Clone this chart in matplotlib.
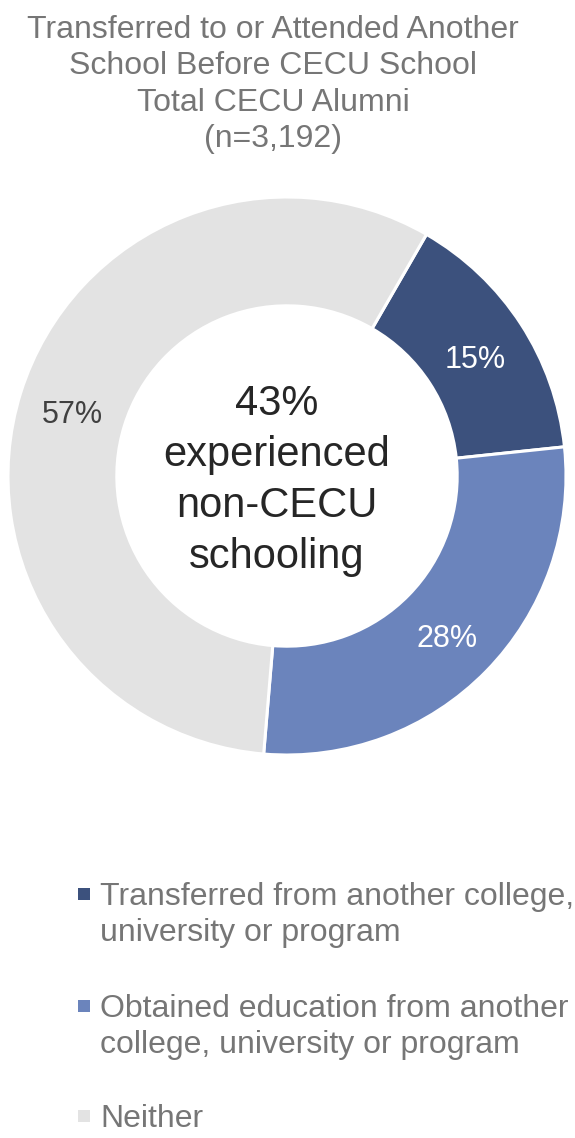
import numpy as np
import matplotlib.pyplot as plt
from matplotlib.patches import Rectangle

plt.rcParams['font.family'] = ['Liberation Sans', 'DejaVu Sans']

# data
categories = ['Transferred from another college,\nuniversity or program',
              'Obtained education from another\ncollege, university or program',
              'Neither']
shares = [15, 28, 57]
colors = ['#3c517d', '#6b84bc', '#e3e3e3']
label_colors = ['white', 'white', '#404040']
title_lines = ['Transferred to or Attended Another', 'School Before CECU School',
               'Total CECU Alumni', '(n=3,192)']
center_lines = ['43%', 'experienced', 'non-CECU', 'schooling']

W, H = 575, 1138
fig = plt.figure(figsize=(W / 100, H / 100), dpi=100)


def put_lines(lines, x, y0, dy, **kw):
    # one text per line, y0 = baseline of first line in px from top
    for i, s in enumerate(lines):
        fig.text(x / W, 1 - (y0 + i * dy) / H, s, va='baseline', **kw)


# donut axes, centred at (287, 476) px, outer radius ~279 px
cx, cy, r_px, half = 287, 476, 279, 285
ax = fig.add_axes([(cx - half) / W, (H - cy - half) / H, 2 * half / W, 2 * half / H])

wedges, texts, autotexts = ax.pie(
    shares, colors=colors, startangle=60, counterclock=False,
    radius=1.0, autopct='%d%%', pctdistance=0.805,
    wedgeprops=dict(width=0.39, edgecolor='white', linewidth=2.2),
    textprops=dict(fontsize=22))
for t, c in zip(autotexts, label_colors):
    t.set_color(c)
    x, y = t.get_position()
    t.set_position((x, y - 6 / r_px))  # nudge down a touch

lim = half / r_px
ax.set_xlim(-lim, lim)
ax.set_ylim(-lim, lim)
ax.set_aspect('equal')
ax.axis('off')

put_lines(center_lines, 277, 415, 51, ha='center', fontsize=30, color='#262626')
put_lines(title_lines, 273, 38, 36.5, ha='center', fontsize=23, color='#767676')

# legend drawn by hand
legend_y = [905, 1017, 1127]
for lab, col, yb in zip(categories, colors, legend_y):
    fig.add_artist(Rectangle((78 / W, 1 - (yb - 5) / H), 12 / W, 12 / H,
                             transform=fig.transFigure, facecolor=col,
                             edgecolor='none'))
    put_lines(lab.split('\n'), 100, yb, 36.5, ha='left', fontsize=23,
              color='#767676')

fig.savefig('out.png', dpi=100)
